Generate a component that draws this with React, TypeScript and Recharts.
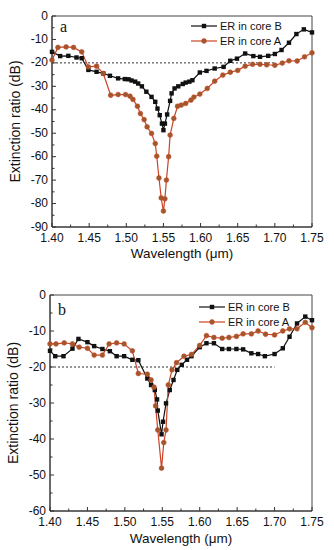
import React from "react";
import {
  LineChart,
  Line,
  XAxis,
  YAxis,
  ReferenceLine,
  ReferenceArea,
  Label,
  Customized,
} from "recharts";

// panel a
const aWlB = [1.400, 1.411, 1.422, 1.433, 1.440, 1.449, 1.460, 1.469, 1.478, 1.489, 1.498, 1.503, 1.507, 1.512, 1.516, 1.521, 1.527, 1.534, 1.539, 1.542, 1.545, 1.548, 1.550, 1.552, 1.555, 1.559, 1.561, 1.565, 1.570, 1.576, 1.580, 1.585, 1.589, 1.599, 1.608, 1.619, 1.631, 1.640, 1.649, 1.660, 1.671, 1.680, 1.691, 1.700, 1.709, 1.719, 1.729, 1.739, 1.750];
const aErB = [-15.3, -17.1, -17, -17.7, -18, -23, -23.8, -24.5, -25.5, -26.6, -26.9, -27, -27.5, -28, -28.8, -30, -32.3, -34.5, -36.6, -39.5, -42.3, -45.9, -48.7, -45.9, -42, -36.2, -33, -30.9, -30, -29, -28.4, -28, -27.4, -24.1, -23.4, -22.4, -21.7, -19.1, -18.2, -16, -17.1, -17.4, -17, -16.2, -14.5, -11.4, -7.7, -5.7, -7];
const aWlA = [1.400, 1.408, 1.419, 1.429, 1.440, 1.449, 1.460, 1.469, 1.479, 1.489, 1.499, 1.505, 1.509, 1.515, 1.519, 1.524, 1.528, 1.534, 1.539, 1.541, 1.544, 1.547, 1.550, 1.552, 1.554, 1.557, 1.559, 1.564, 1.569, 1.574, 1.580, 1.587, 1.591, 1.599, 1.609, 1.619, 1.630, 1.640, 1.650, 1.660, 1.670, 1.680, 1.689, 1.700, 1.710, 1.719, 1.730, 1.740, 1.750];
const aErA = [-18.8, -13.4, -13.2, -13.4, -15.3, -21.7, -21.4, -24.5, -33.8, -33.5, -33.5, -34.2, -35.6, -38.5, -41.6, -44.2, -47.3, -50.1, -54.4, -59.8, -69.1, -77.6, -83.2, -78, -70, -60, -50.8, -43.7, -38.5, -38, -37.3, -35.9, -34.6, -33.3, -30.9, -27.8, -25.2, -24, -23.2, -21.4, -20.6, -20.6, -20.8, -21, -20.1, -19.1, -19.2, -17.4, -15.7];

// panel b
const bWlB = [1.400, 1.407, 1.418, 1.430, 1.438, 1.450, 1.459, 1.470, 1.480, 1.489, 1.499, 1.510, 1.518, 1.530, 1.535, 1.540, 1.543, 1.544, 1.549, 1.551, 1.555, 1.560, 1.565, 1.570, 1.576, 1.583, 1.589, 1.600, 1.609, 1.619, 1.630, 1.639, 1.649, 1.658, 1.669, 1.678, 1.687, 1.700, 1.711, 1.720, 1.730, 1.741, 1.750];
const bErB = [-15.5, -17, -17, -14.9, -12.2, -13.1, -14.2, -15, -15.6, -17, -17, -18, -18.1, -23.2, -25, -26.4, -29, -32.1, -38.7, -35.2, -30.1, -26.4, -23.6, -20.8, -19.4, -18, -17, -14.5, -13.4, -13.4, -15, -15, -15, -15.1, -16.2, -16.4, -17, -16.4, -14.8, -11.6, -7.9, -6, -7];
const bWlA = [1.400, 1.408, 1.419, 1.430, 1.439, 1.450, 1.459, 1.470, 1.479, 1.489, 1.499, 1.510, 1.518, 1.530, 1.535, 1.539, 1.541, 1.544, 1.549, 1.552, 1.555, 1.558, 1.563, 1.569, 1.579, 1.589, 1.600, 1.609, 1.619, 1.630, 1.639, 1.649, 1.658, 1.669, 1.678, 1.688, 1.700, 1.711, 1.720, 1.730, 1.741, 1.750];
const bErA = [-13.6, -13.6, -13.3, -13.6, -14.5, -14.8, -16.7, -16.7, -13.6, -13.3, -13.6, -15.5, -21.8, -22, -23.6, -25.6, -30.8, -37.5, -48.1, -41, -37.5, -25, -20.8, -18.8, -17, -16.5, -14, -11.3, -11.8, -12, -11.8, -11.5, -10.8, -10.8, -10, -10.9, -11.1, -10, -9.4, -9.4, -7.6, -9.1];

const xTicks = [1.4, 1.425, 1.45, 1.475, 1.5, 1.525, 1.55, 1.575, 1.6, 1.625, 1.65, 1.675, 1.7, 1.725, 1.75];
const aYTicks = [0, -5, -10, -15, -20, -25, -30, -35, -40, -45, -50, -55, -60, -65, -70, -75, -80, -85, -90];
const bYTicks = [0, -5, -10, -15, -20, -25, -30, -35, -40, -45, -50, -55, -60];
const seriesNames = ["ER in core B", "ER in core A"];

const FONT = "'Liberation Sans', Arial, sans-serif";
const BLACK = "#111";
const RED_LINE = "#cc4426";
const RED_DOT = "#9c5a2c";

const toPts = (wl: number[], er: number[]) => wl.map((x, i) => ({ x, y: er[i] }));

function XTick(props: any) {
  const { x, y, payload } = props;
  const v = payload.value as number;
  const major = Math.round(v * 1000) % 50 === 0;
  return (
    <g>
      <line x1={x} x2={x} y1={y} y2={y - (major ? 4 : 2.5)} stroke="#333" />
      {major && (
        <text x={x} y={y + 15} textAnchor="middle" fontSize={12} fontFamily={FONT} fill="#111">
          {v.toFixed(2)}
        </text>
      )}
    </g>
  );
}

function YTick(props: any) {
  const { x, y, payload } = props;
  const v = payload.value as number;
  const major = v % 10 === 0;
  return (
    <g>
      <line x1={x} x2={x + (major ? 4 : 2.5)} y1={y} y2={y} stroke="#333" />
      {major && (
        <text x={x - 4} y={y + 3.5} textAnchor="end" fontSize={12} fontFamily={FONT} fill="#111">
          {v}
        </text>
      )}
    </g>
  );
}

const squareDot = (p: any) => (
  <rect key={`s${p.index}`} x={p.cx - 2.2} y={p.cy - 2.2} width={4.4} height={4.4} fill={BLACK} />
);
const roundDot = (p: any) => (
  <circle key={`c${p.index}`} cx={p.cx} cy={p.cy} r={2.4} fill={RED_DOT} stroke={RED_LINE} strokeWidth={0.6} />
);

function Overlay({ letter, lx, ly, tx, ty }: { letter: string; lx: number; ly: number; tx: number; ty: number }) {
  return (
    <g>
      <text x={tx} y={ty} fontSize={16} fontFamily="'Liberation Serif', 'Times New Roman', serif" fill="#111">
        {letter}
      </text>
      {[0, 1].map((i) => {
        const yy = ly + i * 15;
        return (
          <g key={i}>
            <line x1={lx} x2={lx + 26} y1={yy} y2={yy} stroke={i === 0 ? BLACK : RED_LINE} strokeWidth={1.2} />
            {i === 0 ? (
              <rect x={lx + 13 - 2.2} y={yy - 2.2} width={4.4} height={4.4} fill={BLACK} />
            ) : (
              <circle cx={lx + 13} cy={yy} r={2.4} fill={RED_DOT} stroke={RED_LINE} strokeWidth={0.6} />
            )}
            <text x={lx + 29} y={yy + 4} fontSize={11} fontFamily={FONT} fill="#111">
              {seriesNames[i]}
            </text>
          </g>
        );
      })}
    </g>
  );
}

interface PanelProps {
  top: number;
  height: number;
  yAxisWidth: number;
  yMin: number;
  yTicks: number[];
  wlB: number[];
  erB: number[];
  wlA: number[];
  erA: number[];
  letter: string;
  legendX: number;
  legendY: number;
  letterX: number;
  letterY: number;
  xTitleY: number;
  yTitleX: number;
}

function Panel(p: PanelProps) {
  const plotBottom = p.height - 35;
  const midY = (16 + plotBottom) / 2;
  const midX = (p.yAxisWidth + 312) / 2;
  return (
    <div style={{ position: "absolute", left: 0, top: p.top }}>
      <LineChart width={334} height={p.height} margin={{ top: 16, right: 22, bottom: 0, left: 0 }}>
        <XAxis
          type="number"
          dataKey="x"
          domain={[1.4, 1.75]}
          ticks={xTicks}
          interval={0}
          height={35}
          tickLine={false}
          tickSize={0}
          tickMargin={0}
          axisLine={{ stroke: "#333" }}
          tick={<XTick />}
          allowDuplicatedCategory={false}
        >
          <Label
            content={() => (
              <text x={midX} y={p.xTitleY} textAnchor="middle" fontSize={13.5} fontFamily={FONT} fill="#111">
                Wavelength (μm)
              </text>
            )}
          />
        </XAxis>
        <YAxis
          type="number"
          domain={[p.yMin, 0]}
          ticks={p.yTicks}
          interval={0}
          width={p.yAxisWidth}
          tickLine={false}
          tickSize={0}
          tickMargin={0}
          axisLine={{ stroke: "#333" }}
          tick={<YTick />}
        >
          <Label
            content={() => (
              <text
                x={p.yTitleX}
                y={midY}
                textAnchor="middle"
                fontSize={14}
                fontFamily={FONT}
                fill="#111"
                transform={`rotate(-90, ${p.yTitleX}, ${midY})`}
              >
                Extinction ratio (dB)
              </text>
            )}
          />
        </YAxis>
        <ReferenceArea x1={1.4} x2={1.75} y1={p.yMin} y2={0} fill="none" stroke="#444" strokeWidth={1} />
        <ReferenceLine
          segment={[
            { x: 1.4, y: -20 },
            { x: 1.7, y: -20 },
          ]}
          stroke="#333"
          strokeDasharray="2 2"
        />
        <Line
          data={toPts(p.wlB, p.erB)}
          dataKey="y"
          stroke={BLACK}
          strokeWidth={1.2}
          dot={squareDot}
          activeDot={false}
          isAnimationActive={false}
        />
        <Line
          data={toPts(p.wlA, p.erA)}
          dataKey="y"
          stroke={RED_LINE}
          strokeWidth={1.2}
          dot={roundDot}
          activeDot={false}
          isAnimationActive={false}
        />
        <Customized
          component={
            <Overlay letter={p.letter} lx={p.legendX} ly={p.legendY} tx={p.letterX} ty={p.letterY} />
          }
        />
      </LineChart>
    </div>
  );
}

export default function App() {
  return (
    <div style={{ position: "absolute", left: 0, top: 0, width: 334, height: 550, background: "#fff" }}>
      <Panel
        top={0}
        height={262}
        yAxisWidth={52}
        yMin={-90}
        yTicks={aYTicks}
        wlB={aWlB}
        erB={aErB}
        wlA={aWlA}
        erA={aErA}
        letter="a"
        legendX={191}
        legendY={26}
        letterX={60}
        letterY={32}
        xTitleY={257.5}
        yTitleX={20}
      />
      <Panel
        top={279}
        height={267}
        yAxisWidth={50}
        yMin={-60}
        yTicks={bYTicks}
        wlB={bWlB}
        erB={bErB}
        wlA={bWlA}
        erA={bErA}
        letter="b"
        legendX={199}
        legendY={28}
        letterX={58}
        letterY={36}
        xTitleY={264}
        yTitleX={18}
      />
    </div>
  );
}
